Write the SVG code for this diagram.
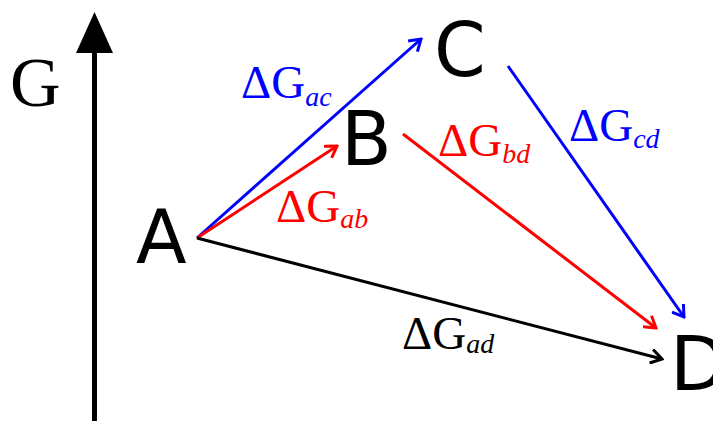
<svg xmlns="http://www.w3.org/2000/svg" width="713" height="423" viewBox="0 0 713 423">
<style>
.node{font-family:"DejaVu Sans",sans-serif;font-size:74px;fill:#000}
.lbl{font-family:"Liberation Serif","Times New Roman",serif;font-size:47px}
.sub{font-style:italic;font-size:28px}
.c{fill:none;stroke-width:3}
</style>
<defs>
<marker id="mb" viewBox="-12 -8 14 16" markerWidth="14" markerHeight="16" refX="0" refY="0" orient="auto" markerUnits="userSpaceOnUse"><path d="M-11,-7 L0,0 L-11,7" fill="none" stroke="#0000ff" stroke-width="3"/></marker>
<marker id="mr" viewBox="-12 -8 14 16" markerWidth="14" markerHeight="16" refX="0" refY="0" orient="auto" markerUnits="userSpaceOnUse"><path d="M-11,-7 L0,0 L-11,7" fill="none" stroke="#ff0000" stroke-width="3"/></marker>
<marker id="mk" viewBox="-12 -8 14 16" markerWidth="14" markerHeight="16" refX="0" refY="0" orient="auto" markerUnits="userSpaceOnUse"><path d="M-11,-7 L0,0 L-11,7" fill="none" stroke="#000" stroke-width="3"/></marker>
</defs>
<g id="axis">
<line x1="94.5" y1="421" x2="94.5" y2="50" stroke="#000" stroke-width="5"/>
<polygon points="94.5,12 113,53 76,53" fill="#000"/>
<text x="10" y="106" font-family="Liberation Serif,serif" font-size="70">G</text>
</g>
<g id="connectors">
<line class="c" stroke="#0000ff" x1="197" y1="238" x2="421" y2="39" marker-end="url(#mb)"/>
<line class="c" stroke="#ff0000" x1="197" y1="238" x2="337" y2="146" marker-end="url(#mr)"/>
<line class="c" stroke="#000" x1="197" y1="238" x2="662" y2="359" marker-end="url(#mk)"/>
<line class="c" stroke="#ff0000" x1="403" y1="134" x2="656" y2="328" marker-end="url(#mr)"/>
<line class="c" stroke="#0000ff" x1="508" y1="66" x2="684" y2="317" marker-end="url(#mb)"/>
<text class="lbl" fill="#0000ff" x="241" y="98">ΔG<tspan class="sub" dy="8">ac</tspan></text>
<text class="lbl" fill="#ff0000" x="276" y="222">ΔG<tspan class="sub" dy="6">ab</tspan></text>
<text class="lbl" fill="#ff0000" x="438" y="156">ΔG<tspan class="sub" dy="7">bd</tspan></text>
<text class="lbl" fill="#0000ff" x="569" y="141">ΔG<tspan class="sub" dy="7">cd</tspan></text>
<text class="lbl" fill="#000" x="402" y="349">ΔG<tspan class="sub" dy="4">ad</tspan></text>
</g>
<g id="A"><text class="node" x="136" y="263">A</text></g>
<g id="B"><text class="node" x="341" y="165">B</text></g>
<g id="C"><text class="node" x="434" y="76">C</text></g>
<g id="D"><text class="node" x="670" y="390">D</text></g>
</svg>
